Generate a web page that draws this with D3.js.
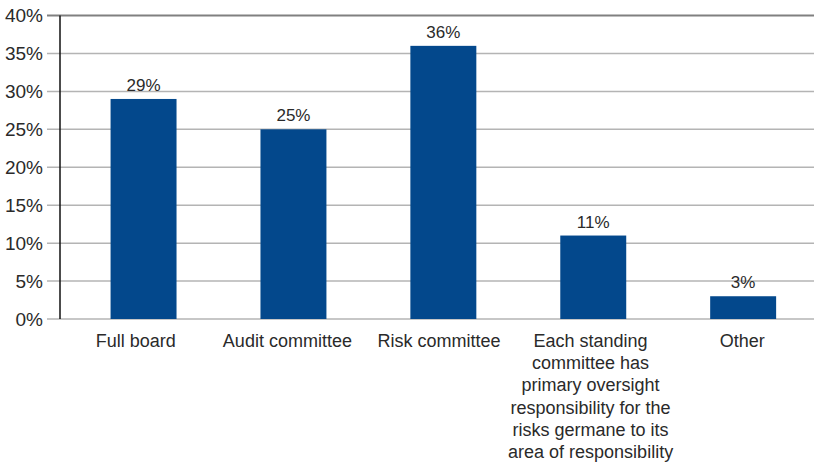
<!DOCTYPE html>
<html>
<head>
<meta charset="utf-8">
<script src="https://cdn.jsdelivr.net/npm/d3@7/dist/d3.min.js"></script>
<style>
  html, body { margin: 0; padding: 0; background: #fff; }
  svg { display: block; font-family: "Liberation Sans", Arial, sans-serif; }
</style>
</head>
<body>
<svg id="chart" width="814" height="463"></svg>
<script>
// Who holds primary oversight of risk
const categories = [
  "Full board",
  "Audit committee",
  "Risk committee",
  "Each standing\ncommittee has\nprimary oversight\nresponsibility for the\nrisks germane to its\narea of responsibility",
  "Other"
];
const values = [29, 25, 36, 11, 3];
const yTicks = [0, 5, 10, 15, 20, 25, 30, 35, 40];

const svg = d3.select("#chart");
const axisX = 60, plotTop = 15.5, plotBottom = 319;

// bar positions
const x = d3.scaleBand()
  .domain(categories)
  .range([68.6, 818.1])
  .paddingInner(0.56)
  .paddingOuter(0.28);

// category label slots along the axis
const xSlot = d3.scaleBand()
  .domain(categories)
  .range([60, 818]);

const y = d3.scaleLinear().domain([0, 40]).range([plotBottom, plotTop]);

// gridlines
svg.append("g").selectAll("line")
  .data(yTicks)
  .join("line")
  .attr("x1", 47).attr("x2", 814)
  .attr("y1", d => y(d)).attr("y2", d => y(d))
  .attr("stroke", d => d === 40 ? "#808080" : "#b4b4b4")
  .attr("stroke-width", d => d === 40 ? 2 : 1.5);

// y tick labels
svg.append("g").selectAll("text")
  .data(yTicks)
  .join("text")
  .attr("x", 43)
  .attr("y", d => y(d))
  .attr("dy", "0.35em")
  .attr("text-anchor", "end")
  .attr("font-size", 19)
  .attr("fill", "#2a2a2a")
  .text(d => d + "%");

// bars
svg.append("g").selectAll("rect")
  .data(values)
  .join("rect")
  .attr("x", (d, i) => x(categories[i]))
  .attr("width", x.bandwidth())
  .attr("y", d => y(d))
  .attr("height", d => y(0) - y(d))
  .attr("fill", "#03488c");

// value labels
svg.append("g").selectAll("text")
  .data(values)
  .join("text")
  .attr("x", (d, i) => x(categories[i]) + x.bandwidth() / 2)
  .attr("y", d => y(d) - 8)
  .attr("text-anchor", "middle")
  .attr("font-size", 17)
  .attr("fill", "#2a2a2a")
  .text(d => d + "%");

// y axis line
svg.append("line")
  .attr("x1", axisX).attr("x2", axisX)
  .attr("y1", plotTop).attr("y2", plotBottom)
  .attr("stroke", "#111").attr("stroke-width", 1.5);

// category labels
const cx = d => xSlot(d) + xSlot.bandwidth() / 2;
const cat = svg.append("g").selectAll("text")
  .data(categories)
  .join("text")
  .attr("x", cx)
  .attr("y", 347)
  .attr("text-anchor", "middle")
  .attr("font-size", 18)
  .attr("fill", "#2a2a2a");

cat.each(function(d) {
  const t = d3.select(this);
  d.split("\n").forEach((line, i) => {
    t.append("tspan")
      .attr("x", cx(d))
      .attr("dy", i === 0 ? 0 : 22.2)
      .text(line);
  });
});
</script>
</body>
</html>
